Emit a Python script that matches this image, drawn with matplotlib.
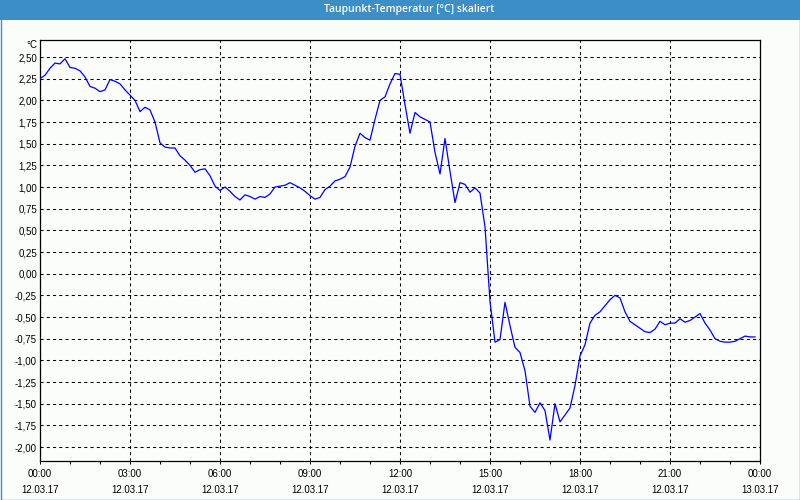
import numpy as np
import matplotlib
matplotlib.use("Agg")
import matplotlib.pyplot as plt
from matplotlib.patches import Rectangle
from matplotlib.ticker import FixedLocator, FuncFormatter

# Dew point temperature, 10-minute samples from 12.03.17 00:00 to 23:50
dewpoint = [
    2.25, 2.29, 2.37, 2.43, 2.42, 2.48, 2.38, 2.37, 2.34, 2.27, 2.16, 2.14,
    2.10, 2.12, 2.24, 2.22, 2.19, 2.12, 2.06, 2.00, 1.87, 1.92, 1.89, 1.75,
    1.51, 1.46, 1.45, 1.45, 1.36, 1.31, 1.25, 1.17, 1.20, 1.21, 1.13, 1.01,
    0.96, 1.00, 0.95, 0.89, 0.85, 0.91, 0.89, 0.86, 0.89, 0.88, 0.92, 1.00,
    1.01, 1.02, 1.05, 1.02, 0.99, 0.95, 0.90, 0.86, 0.88, 0.97, 1.01, 1.07,
    1.09, 1.12, 1.23, 1.47, 1.62, 1.57, 1.54, 1.78, 2.00, 2.04, 2.19, 2.31,
    2.30, 1.95, 1.62, 1.86, 1.81, 1.78, 1.75, 1.40, 1.15, 1.56, 1.18, 0.82,
    1.05, 1.03, 0.94, 0.99, 0.93, 0.54, -0.32, -0.79, -0.76, -0.33, -0.60, -0.85,
    -0.91, -1.12, -1.53, -1.60, -1.49, -1.58, -1.92, -1.50, -1.71, -1.63, -1.55, -1.29,
    -0.95, -0.82, -0.57, -0.48, -0.44, -0.37, -0.30, -0.25, -0.28, -0.44, -0.55, -0.59,
    -0.63, -0.67, -0.68, -0.64, -0.55, -0.59, -0.57, -0.57, -0.52, -0.56, -0.54, -0.50,
    -0.46, -0.57, -0.65, -0.75, -0.78, -0.79, -0.79, -0.78, -0.75, -0.72, -0.73, -0.73,
]
sample_minutes = 10
hours = np.arange(len(dewpoint)) * sample_minutes / 60.0

x_tick_hours = [0, 3, 6, 9, 12, 15, 18, 21, 24]
x_tick_labels = ["00:00\n12.03.17", "03:00\n12.03.17", "06:00\n12.03.17",
                 "09:00\n12.03.17", "12:00\n12.03.17", "15:00\n12.03.17",
                 "18:00\n12.03.17", "21:00\n12.03.17", "00:00\n13.03.17"]
y_ticks = [2.50, 2.25, 2.00, 1.75, 1.50, 1.25, 1.00, 0.75, 0.50, 0.25, 0.00,
           -0.25, -0.50, -0.75, -1.00, -1.25, -1.50, -1.75, -2.00]
title = "Taupunkt-Temperatur [°C] skaliert"
unit = "°C"

FONT = ["Liberation Sans", "DejaVu Sans"]
plt.rcParams["font.family"] = FONT

W, H = 800, 500
fig = plt.figure(figsize=(8, 5), dpi=100, facecolor="#FBFDFB")
BLUE = "#3C8EC7"

# title bar
fig.patches.append(Rectangle((0, 1 - 20 / H), 1, 20 / H, transform=fig.transFigure,
                             facecolor=BLUE, edgecolor="none", zorder=0))
# outer border
fig.patches.append(Rectangle((0.5 / W, 0.5 / H), 1 - 1 / W, 1 - 1 / H, transform=fig.transFigure,
                             facecolor="none", edgecolor=BLUE, linewidth=1.0, zorder=5))
fig.text(409 / W, 1 - 9.5 / H, title, color="white", fontsize=7.5, ha="center", va="center",
         family=["Open Sans", "DejaVu Sans"], fontweight="semibold")

ax = fig.add_axes([40 / W, 1 - 461 / H, 720 / W, 421 / H])
ax.set_facecolor("#FBFDFB")
ax.plot(hours, dewpoint, color="#0000FF", linewidth=0.9, zorder=3)

ax.set_xlim(0, 24)
ax.set_ylim(2.5 - 404 / 86.67, 2.5 + 17 / 86.67)

ax.set_xticks(x_tick_hours)
ax.set_xticklabels(x_tick_labels, fontsize=7, linespacing=1.7, color="#000000")
ax.xaxis.set_minor_locator(FixedLocator(list(range(0, 25))))
ax.set_yticks(y_ticks)
ax.yaxis.set_major_formatter(FuncFormatter(lambda v, p: f"{v:.2f}".replace(".", ",").replace("-0,00", "0,00")))
ax.tick_params(axis="y", length=0, pad=2.2, labelsize=7, colors="#000000")
ax.tick_params(axis="x", which="both", length=2.5, width=0.75, pad=3.5, direction="out")

ax.grid(True, which="major", color="black", linewidth=0.75, linestyle=(0, (3, 3)))
for s in ax.spines.values():
    s.set_color("black")
    s.set_linewidth(0.9)

fig.text(37.5 / W, 1 - 45 / H, unit, fontsize=7, ha="right", va="center", color="black")

fig.savefig("out.png", dpi=100, facecolor=fig.get_facecolor())
